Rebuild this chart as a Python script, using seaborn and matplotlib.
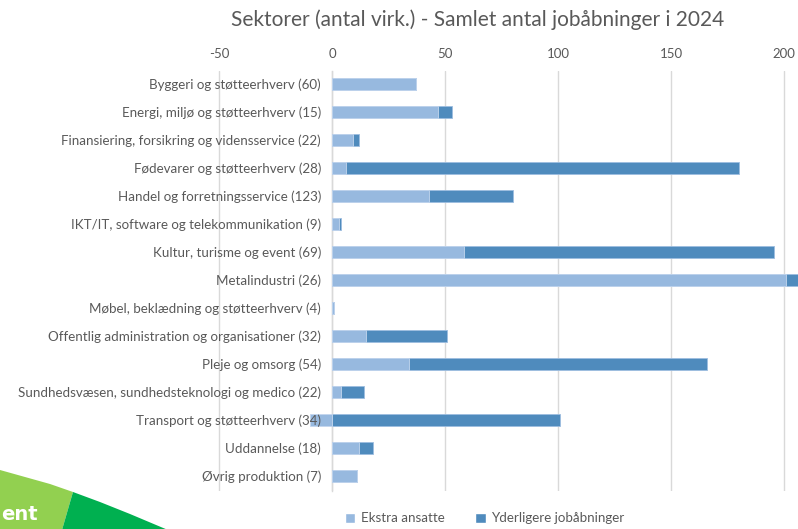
import numpy as np
import matplotlib.pyplot as plt
import seaborn as sns
from matplotlib.patches import Polygon, Patch

sectors = [
    "Byggeri og støtteerhverv (60)",
    "Energi, miljø og støtteerhverv (15)",
    "Finansiering, forsikring og vidensservice (22)",
    "Fødevarer og støtteerhverv (28)",
    "Handel og forretningsservice (123)",
    "IKT/IT, software og telekommunikation (9)",
    "Kultur, turisme og event (69)",
    "Metalindustri (26)",
    "Møbel, beklædning og støtteerhverv (4)",
    "Offentlig administration og organisationer (32)",
    "Pleje og omsorg (54)",
    "Sundhedsvæsen, sundhedsteknologi og medico (22)",
    "Transport og støtteerhverv (34)",
    "Uddannelse (18)",
    "Øvrig produktion (7)",
]
ekstra_ansatte = np.array([37, 47, 9, 6, 43, 3, 58.5, 201, 1, 15, 34, 4, -10, 12, 11])
yderligere = np.array([0, 6, 3, 174, 37, 1, 137, 8, 0, 36, 132, 10, 101, 6, 0])
xticks = [-50, 0, 50, 100, 150, 200]

light = "#97B9DF"
dark = "#4F8BBD"
grey_txt = "#595959"
grid_c = "#D9D9D9"

sns.set_theme(style="white")
plt.rcParams["font.family"] = ["Lato", "DejaVu Sans"]
plt.rcParams["axes.unicode_minus"] = False

fig = plt.figure(figsize=(7.98, 5.29), dpi=100)
ax = fig.add_axes([0.2736, 0.072, 0.7264, 0.794])

# dark segment drawn as the stacked total, light on top of it
dark_end = np.where(ekstra_ansatte > 0, ekstra_ansatte, 0) + yderligere
sns.barplot(x=dark_end, y=sectors, orient="h", color=dark, saturation=1,
            width=0.41, edgecolor="#9DBDE0", linewidth=0.6, ax=ax, zorder=2)
sns.barplot(x=ekstra_ansatte, y=sectors, orient="h", color=light, saturation=1,
            width=0.41, edgecolor="#C3D6EE", linewidth=0.6, ax=ax, zorder=3)

ax.set_xlim(-50.4, 206.2)
ax.set_ylim(14.54, -0.46)
ax.set_xticks(xticks)
ax.xaxis.tick_top()
ax.tick_params(axis="x", length=0, pad=8, labelsize=9.5, labelcolor=grey_txt)
ax.tick_params(axis="y", length=0, pad=8, labelsize=9.6, labelcolor=grey_txt)
ax.grid(axis="x", color=grid_c, linewidth=1)
ax.set_axisbelow(True)
ax.yaxis.set_zorder(10)
for s in ["top", "right", "bottom"]:
    ax.spines[s].set_visible(False)
ax.spines["left"].set_position(("data", 0))
ax.spines["left"].set_color(grid_c)
ax.spines["left"].set_linewidth(1)
ax.spines["left"].set_zorder(1)
ax.set_xlabel("")
ax.set_ylabel("")

fig.text(0.598, 0.962, "Sektorer (antal virk.) - Samlet antal jobåbninger i 2024",
         ha="center", va="center", fontsize=15, color=grey_txt)

handles = [Patch(facecolor=light, label="Ekstra ansatte"),
           Patch(facecolor=dark, label="Yderligere jobåbninger")]
fig.legend(handles=handles, loc="lower center", bbox_to_anchor=(0.607, -0.014),
           ncol=2, frameon=False, fontsize=9.6, labelcolor=grey_txt,
           handlelength=0.8, handleheight=0.8, handletextpad=0.4, columnspacing=2.3)

# green logo fragment in the lower left corner
def px(pts):
    return [(x / 798, 1 - y / 529) for x, y in pts]

fig.add_artist(Polygon(px([(0, 470), (25, 477), (50, 484), (73, 492), (62, 530), (0, 530)]),
                       closed=True, facecolor="#92D050", edgecolor="none", transform=fig.transFigure))
fig.add_artist(Polygon(px([(73, 492), (100, 502), (130, 514), (168, 530), (62, 530)]),
                       closed=True, facecolor="#00B050", edgecolor="none", transform=fig.transFigure))
fig.text(0.002, 1 - 515 / 529, "ent", ha="left", va="center", fontsize=14,
         fontweight="bold", color="white", family="DejaVu Sans")

fig.savefig("out.png", dpi=100)
